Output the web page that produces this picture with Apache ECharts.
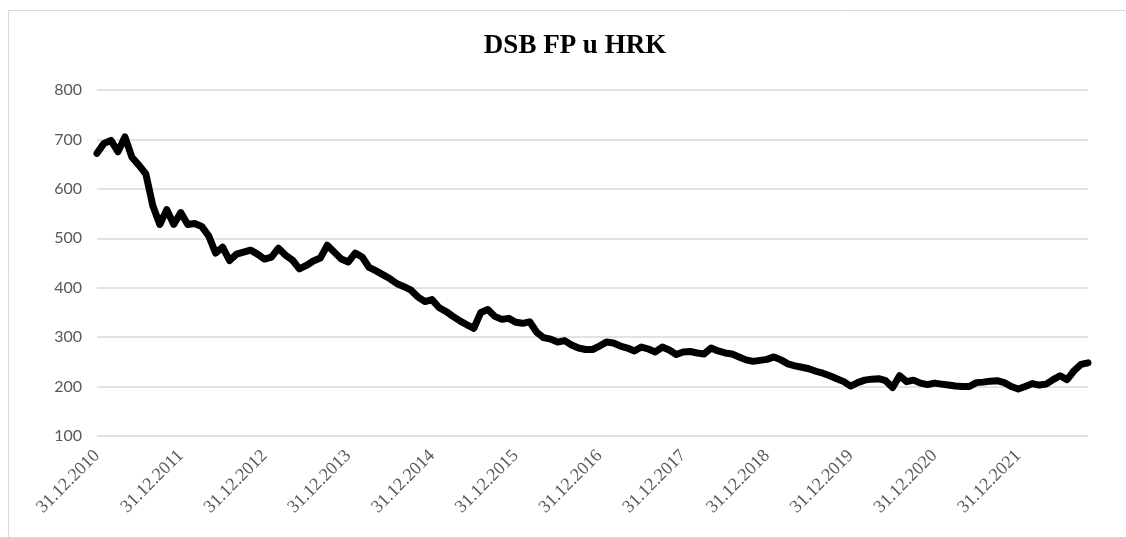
<!DOCTYPE html>
<html>
<head>
<meta charset="utf-8">
<title>DSB FP u HRK</title>
<script src="https://cdn.jsdelivr.net/npm/echarts@6/dist/echarts.min.js"></script>
<style>
  html, body { margin: 0; padding: 0; background: #fff; }
  #main { width: 1126px; height: 537px; }
</style>
</head>
<body>
<div id="main"></div>
<script>
// mjesečne vrijednosti, od 31.12.2010 do 31.10.2022
var startYear = 2010, startMonth = 11; // prosinac 2010
var prices = [
  672,
  692, 698, 675, 705, 664, 648, 630, 566, 528, 558, 528, 552,
  528, 530, 524, 505, 470, 482, 455, 468, 472, 476, 468, 458,
  462, 480, 466, 456, 438, 445, 454, 460, 486, 472, 458, 452,
  470, 462, 441, 434, 426, 418, 408, 402, 395, 381, 372, 376,
  360, 352, 342, 333, 325, 318, 350, 356, 342, 336, 338, 330,
  328, 331, 310, 299, 296, 290, 293, 284, 278, 275, 275, 282,
  290, 288, 282, 278, 272, 280, 276, 270, 280, 274, 265, 270,
  271, 268, 266, 278, 272, 268, 266, 260, 254, 251, 253, 255,
  260, 254, 246, 242, 239, 236, 231, 227, 222, 216, 210, 201,
  208, 213, 215, 216, 212, 198, 222, 210, 213, 207, 204, 207,
  205, 203, 201, 200, 200, 208, 209, 211, 212, 208, 200, 195,
  200, 206, 203, 205, 214, 222, 214, 232, 245, 248
];
var yTicks = [100, 200, 300, 400, 500, 600, 700, 800];

// kategorije: zadnji dan u mjesecu
function pad(n) { return (n < 10 ? '0' : '') + n; }
var dates = [];
for (var i = 0; i < prices.length; i++) {
  var y = startYear + Math.floor((startMonth + i) / 12);
  var m = (startMonth + i) % 12;
  var last = new Date(y, m + 1, 0).getDate();
  dates.push(pad(last) + '.' + pad(m + 1) + '.' + y);
}

var myChart = echarts.init(document.getElementById('main'));
var option = {
  backgroundColor: '#ffffff',
  animation: false,
  title: {
    text: 'DSB FP u HRK',
    left: 570,
    textAlign: 'center',
    top: 28,
    textStyle: {
      fontFamily: 'Liberation Serif',
      fontWeight: 'bold',
      fontSize: 27,
      color: '#000'
    }
  },
  graphic: [{
    type: 'rect',
    shape: { x: 8.5, y: 10.5, width: 1130, height: 540 },
    style: { fill: 'none', stroke: '#d9d9d9', lineWidth: 1 },
    silent: true
  }],
  grid: {
    left: 97,
    right: 38,
    top: 90,
    bottom: 101
  },
  xAxis: {
    type: 'category',
    data: dates,
    boundaryGap: false,
    axisLine: { show: false },
    axisTick: { show: false },
    axisLabel: {
      interval: function (idx, val) { return val.indexOf('31.12.') === 0; },
      rotate: 45,
      margin: 17,
      fontFamily: 'Liberation Serif',
      fontSize: 18,
      color: '#595959'
    }
  },
  yAxis: {
    type: 'value',
    min: yTicks[0],
    max: yTicks[yTicks.length - 1],
    interval: 100,
    axisLine: { show: false },
    axisTick: { show: false },
    axisLabel: {
      margin: 15,
      fontFamily: 'Lato',
      fontSize: 16,
      color: '#595959'
    },
    splitLine: { lineStyle: { color: '#d9d9d9', width: 1.5 } }
  },
  series: [{
    name: 'DSB FP',
    type: 'line',
    data: prices,
    showSymbol: false,
    smooth: false,
    lineStyle: { color: '#000', width: 7, cap: 'round', join: 'round' }
  }]
};
myChart.setOption(option);
</script>
</body>
</html>
